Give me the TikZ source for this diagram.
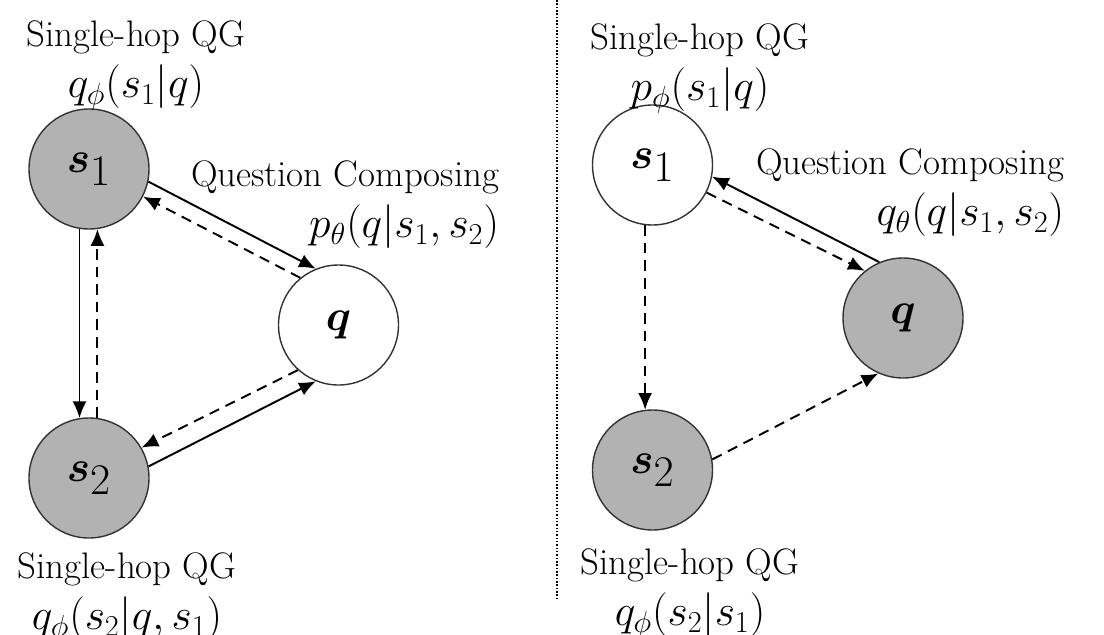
\documentclass[tikz,border=0pt]{standalone}
\usepackage{amsmath}
\usepackage{amssymb}
\usepackage[usenames,dvipsnames]{xcolor}
\usepackage{tikz}
\usetikzlibrary{arrows.meta,automata}

\newcommand{\bigmath}{\fontsize{25}{29}\selectfont}

\tikzset{
	every state/.style={draw=black!80,line width=0.8pt,minimum size=2.4cm,inner sep=0pt,
		font=\fontsize{34}{38}\selectfont},
	observed/.style={fill=black!30},
	infer/.style={dash pattern=on 6pt off 4pt},
	txt/.style={inner sep=0pt,font=\fontsize{21}{29}\selectfont},
	divider/.style={-,line width=0.9pt,dash pattern=on 0.9pt off 1pt}
}

\begin{document}
\begin{tikzpicture}[->,>={Latex[length=9.5pt,width=8pt]},line width=1.1pt]
		\useasboundingbox (0,0) rectangle (22.08,-12.7);
		% left half
		\node[state,observed] (ls1) at (1.78,-3.38)  {$\boldsymbol{s}_1$};
		\node[state,observed] (ls2) at (1.78,-9.56)  {$\boldsymbol{s}_2$};
		\node[state]          (lq)  at (6.77,-6.50)  {$\boldsymbol{q}$};
		\node[txt,align=center,anchor=north]    (lqg1)  at (2.72,-0.40)
			{Single-hop QG\\{\bigmath$q_\phi(s_1|q)$}};
		\node[txt,align=right,anchor=north east] (lcomp) at (10.0,-3.20)
			{Question Composing\\{\bigmath$p_\theta(q|s_1,s_2)$}};
		\node[txt,align=center,anchor=north]    (lqg2)  at (2.54,-11.04)
			{Single-hop QG\\{\bigmath$q_\phi(s_2|q,s_1)$}};
		\path
			(ls1.-12)  edge               (lq.112)
			(lq.129)   edge [infer]       (ls1.-27)
			(ls1.-99)  edge               (ls2.99)
			(ls2.82)   edge [infer]       (ls1.-82)
			(lq.-132)  edge [infer]       (ls2.30)
			(ls2.11)   edge               (lq.-112);
		% divider
		\coordinate (top) at (11.14,0);
		\coordinate (bot) at (11.14,-12.0);
		\draw[divider] (top) -- (bot);
		% right half
		\node[state]          (rs1) at (13.05,-3.30) {$\boldsymbol{s}_1$};
		\node[state,observed] (rs2) at (13.05,-9.40) {$\boldsymbol{s}_2$};
		\node[state,observed] (rq)  at (18.06,-6.36) {$\boldsymbol{q}$};
		\node[txt,align=center,anchor=north]    (rqg1)  at (14.00,-0.46)
			{Single-hop QG\\{\bigmath$p_\phi(s_1|q)$}};
		\node[txt,align=right,anchor=north east] (rcomp) at (21.30,-2.96)
			{Question Composing\\{\bigmath$q_\theta(q|s_1,s_2)$}};
		\node[txt,align=center,anchor=north]    (rqg2)  at (13.80,-10.96)
			{Single-hop QG\\{\bigmath$q_\phi(s_2|s_1)$}};
		\path
			(rq.113)   edge               (rs1.-11)
			(rs1.-27)  edge [infer]       (rq.129)
			(rs1.-97)  edge [infer]       (rs2.97)
			(rs2.10)   edge [infer]       (rq.-114);
	\end{tikzpicture}
\end{document}
